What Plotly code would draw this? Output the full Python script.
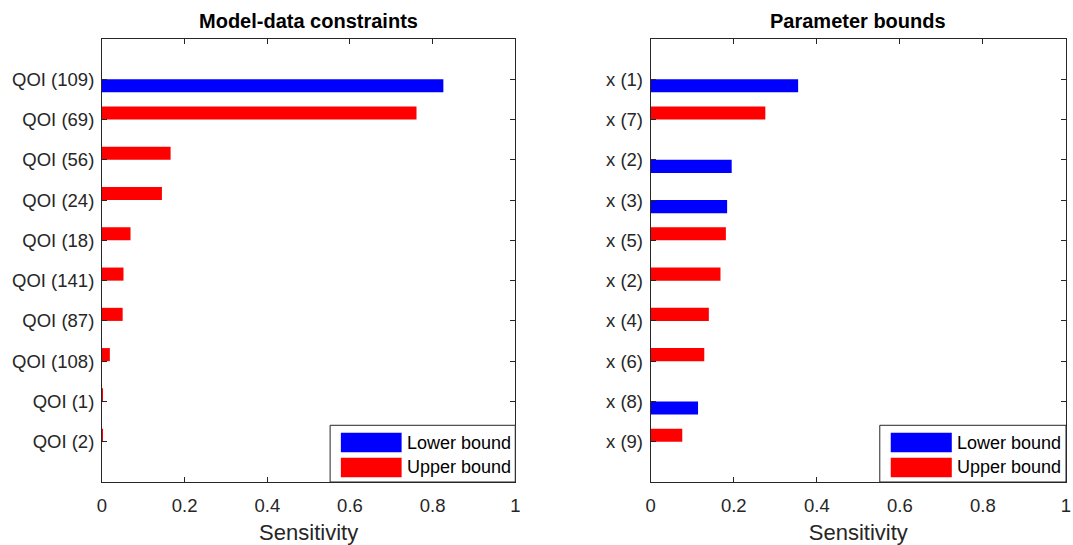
import plotly.graph_objects as go
from plotly.subplots import make_subplots

# Model-data constraints (QOI sensitivities)
qoi_labels = ["QOI (109)", "QOI (69)", "QOI (56)", "QOI (24)", "QOI (18)",
              "QOI (141)", "QOI (87)", "QOI (108)", "QOI (1)", "QOI (2)"]
qoi_lower = [0.826, 0, 0, 0, 0, 0, 0, 0, 0, 0]
qoi_upper = [0, 0.761, 0.166, 0.145, 0.069, 0.052, 0.050, 0.019, 0.002, 0.002]

# Parameter bounds sensitivities
par_labels = ["x (1)", "x (7)", "x (2)", "x (3)", "x (5)",
              "x (2)", "x (4)", "x (6)", "x (8)", "x (9)"]
par_lower = [0.355, 0, 0.195, 0.184, 0, 0, 0, 0, 0.114, 0]
par_upper = [0, 0.276, 0, 0, 0.181, 0.168, 0.140, 0.129, 0, 0.076]

x_ticks = [0, 0.2, 0.4, 0.6, 0.8, 1]
x_tick_text = ["0", "0.2", "0.4", "0.6", "0.8", "1"]

BLUE = "#0000FF"
RED = "#FF0000"
INK = "#262626"
FONT = "Liberation Sans, Arial, sans-serif"

fig = make_subplots(rows=1, cols=2, horizontal_spacing=0.1415)

panels = [
    (qoi_labels, qoi_lower, qoi_upper, 1),
    (par_labels, par_lower, par_upper, 2),
]

for labels, lower, upper, col in panels:
    n = len(labels)
    ypos = list(range(n, 0, -1))  # first label at the top
    fig.add_trace(go.Bar(x=lower, y=ypos, orientation="h", name="Lower bound",
                         marker=dict(color=BLUE, line=dict(width=0)),
                         showlegend=False), row=1, col=col)
    fig.add_trace(go.Bar(x=upper, y=ypos, orientation="h", name="Upper bound",
                         marker=dict(color=RED, line=dict(width=0)),
                         showlegend=False), row=1, col=col)
    fig.update_yaxes(row=1, col=col, range=[0, n + 1], tickmode="array",
                     tickvals=ypos, ticktext=labels, showgrid=False,
                     zeroline=False, showline=True, mirror="ticks",
                     linecolor=INK, linewidth=1, ticks="inside", ticklen=5,
                     tickcolor=INK, tickfont=dict(size=18.5, color=INK, family=FONT),
                     ticklabelstandoff=3)
    fig.update_xaxes(row=1, col=col, range=[0, 1], tickmode="array",
                     tickvals=x_ticks, ticktext=x_tick_text, showgrid=False,
                     zeroline=False, showline=True, mirror="ticks",
                     linecolor=INK, linewidth=1, ticks="inside", ticklen=5,
                     tickcolor=INK, tickfont=dict(size=18.5, color=INK, family=FONT),
                     ticklabelstandoff=7,
                     title=dict(text="Sensitivity", standoff=10,
                                font=dict(size=22, color=INK, family=FONT)))

fig.update_xaxes(domain=[0, 0.4287], row=1, col=1)
fig.update_xaxes(domain=[0.5692, 1], row=1, col=2)

# Subplot titles
for ref, text in [("x", "Model-data constraints"), ("x2", "Parameter bounds")]:
    fig.add_annotation(xref=f"{ref} domain", yref="paper", x=0.5, y=1.0,
                       yshift=18, text=f"<b>{text}</b>", showarrow=False,
                       font=dict(size=20, color="#000000", family=FONT),
                       xanchor="center", yanchor="middle")

# Legend boxes drawn in each panel's lower-right corner
for xref, yref, box_x0 in [("x domain", "y domain", 0.552),
                           ("x2 domain", "y2 domain", 0.5516)]:
    fig.add_shape(type="rect", xref=xref, yref=yref, x0=box_x0, x1=1.0,
                  y0=0.0, y1=0.128, line=dict(color=INK, width=1),
                  fillcolor="white", layer="above")
    sw0, sw1 = 0.578, 0.725
    for (name, color, yc) in [("Lower bound", BLUE, 0.089), ("Upper bound", RED, 0.033)]:
        fig.add_shape(type="rect", xref=xref, yref=yref, x0=sw0, x1=sw1,
                      y0=yc - 0.022, y1=yc + 0.022, line=dict(width=0),
                      fillcolor=color, layer="above")
        fig.add_annotation(xref=xref, yref=yref, x=sw1, y=yc, xshift=3,
                           text=name, showarrow=False, xanchor="left",
                           yanchor="middle",
                           font=dict(size=18, color="#000000", family=FONT))

fig.update_layout(
    width=1073, height=545,
    margin=dict(l=102, r=2, t=39, b=63),
    barmode="group", bargap=0.35, bargroupgap=0,
    plot_bgcolor="white", paper_bgcolor="white",
    font=dict(family=FONT, color=INK),
)

fig.write_html("out.html")
